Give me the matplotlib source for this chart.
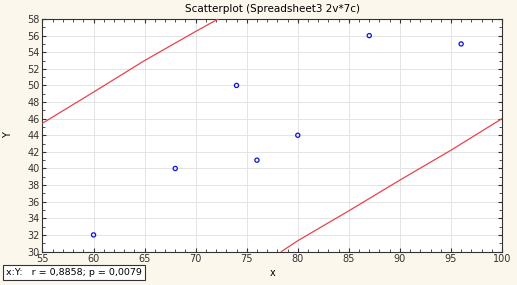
import matplotlib.pyplot as plt
from matplotlib.ticker import MultipleLocator

# data points
x_vals = [60, 68, 74, 76, 80, 87, 96]
y_vals = [32, 40, 50, 41, 44, 56, 55]

# red curves
upper_x = [55, 60, 65, 70, 72.2]
upper_y = [45.45, 49.2, 53.0, 56.5, 58]
lower_x = [78.4, 80, 85, 90, 95, 100]
lower_y = [30, 31.3, 34.9, 38.6, 42.2, 46.0]

title = "Scatterplot (Spreadsheet3 2v*7c)"
stats_text = "x:Y:   r = 0,8858; p = 0,0079"

bg = "#fcf7ec"
fig = plt.figure(figsize=(5.17, 2.85), dpi=100, facecolor=bg)
ax = fig.add_axes([0.0822, 0.1175, 0.8888, 0.8158])
ax.set_facecolor("white")

ax.plot(upper_x, upper_y, color="#e8424f", lw=0.9, zorder=3)
ax.plot(lower_x, lower_y, color="#e8424f", lw=0.9, zorder=3)
ax.scatter(x_vals, y_vals, s=9, facecolors="none", edgecolors="#1010e0",
           linewidths=0.9, zorder=4)

ax.set_xlim(55, 100)
ax.set_ylim(30, 58)
ax.xaxis.set_major_locator(MultipleLocator(5))
ax.xaxis.set_minor_locator(MultipleLocator(1))
ax.yaxis.set_major_locator(MultipleLocator(2))
ax.yaxis.set_minor_locator(MultipleLocator(1))
ax.grid(True, which="major", color="#e4e4e4", lw=0.7)
ax.tick_params(which="both", direction="in", top=True, right=True,
               labelsize=7, colors="#333333", pad=2)
ax.tick_params(which="major", length=3)
ax.tick_params(which="minor", length=2)
for s in ax.spines.values():
    s.set_color("#333333")
    s.set_linewidth(0.8)

ax.set_xlabel("x", fontsize=7, labelpad=3)
ax.set_ylabel("Y", fontsize=7, labelpad=10)
ax.set_title(title, fontsize=7.5, pad=5)

fig.text(0.012, 0.045, stats_text, fontsize=6.8, va="center", ha="left",
         bbox=dict(boxstyle="square,pad=0.3", fc="white", ec="#333333", lw=0.8))

fig.savefig("out.png", dpi=100, facecolor=bg)
